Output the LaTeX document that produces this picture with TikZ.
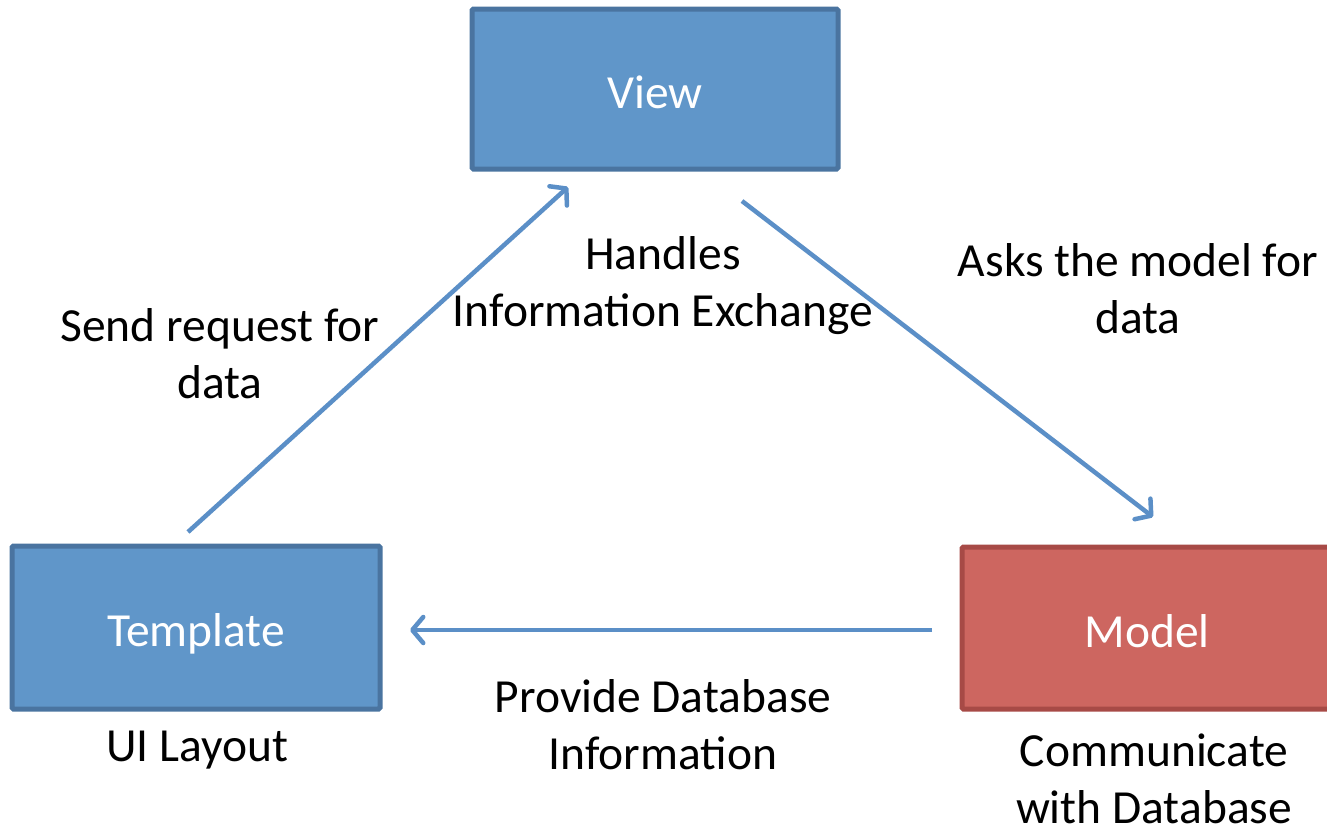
\documentclass[tikz,border=0pt]{standalone}
\usepackage{fontspec}
\setmainfont{Carlito}
\usetikzlibrary{arrows.meta}
\definecolor{bluefill}{HTML}{6096C9}
\definecolor{blueline}{HTML}{4A74A0}
\definecolor{redfill}{HTML}{CD6660}
\definecolor{redline}{HTML}{A74A46}
\definecolor{arrowblue}{HTML}{5B8FC7}
\tikzset{
  box/.style={draw=blueline, fill=bluefill, line width=5pt, rounded corners=1.5pt,
    text=white, font=\fontsize{47.5}{57}\selectfont, inner sep=0pt,
    text height=38pt, text depth=0pt},
  redbox/.style={box, draw=redline, fill=redfill},
  lbl/.style={align=center, font=\fontsize{47.5}{57}\selectfont, inner sep=0pt, text=black},
  conn/.style={draw=arrowblue, line width=4.5pt,
    -{Straight Barb[length=11pt, width=26pt, round]}}
}
\begin{document}
\begin{tikzpicture}[x=1pt, y=-1pt]
\useasboundingbox (0,0) rectangle (1327,827);
\begin{scope}
\clip (0,0) rectangle (1327,827);
\node[box, minimum width=366pt, minimum height=160pt] (view) at (655,89) {View};
\node[box, minimum width=368pt, minimum height=163pt] (template) at (196,627.5) {Template};
\node[redbox, minimum width=370pt, minimum height=162pt] (model) at (1147,628) {Model};
\end{scope}

\node[lbl] (handles) at (663,286) {Handles\\Information Exchange};
\node[lbl] (asks) at (1138,289) {Asks the model for\\data};
\node[lbl] (send) at (220,354) {Send request for\\data};
\node[lbl] (ui) at (197,750) {UI Layout};
\node[lbl] (provide) at (663,725) {Provide Database\\Information};
\node[lbl, text depth=0pt, anchor=south] (comm) at (1154,824) {Communicate\\with Database};

\coordinate (t1) at (188,532);
\coordinate (v1) at (568,187);
\coordinate (v2) at (742,201);
\coordinate (m1) at (1153,517);
\coordinate (m2) at (932,630);
\coordinate (t2) at (410,630);

\draw[conn] (t1) -- (v1);
\draw[conn] (v2) -- (m1);
\draw[conn] (m2) -- (t2);
\end{tikzpicture}
\end{document}
